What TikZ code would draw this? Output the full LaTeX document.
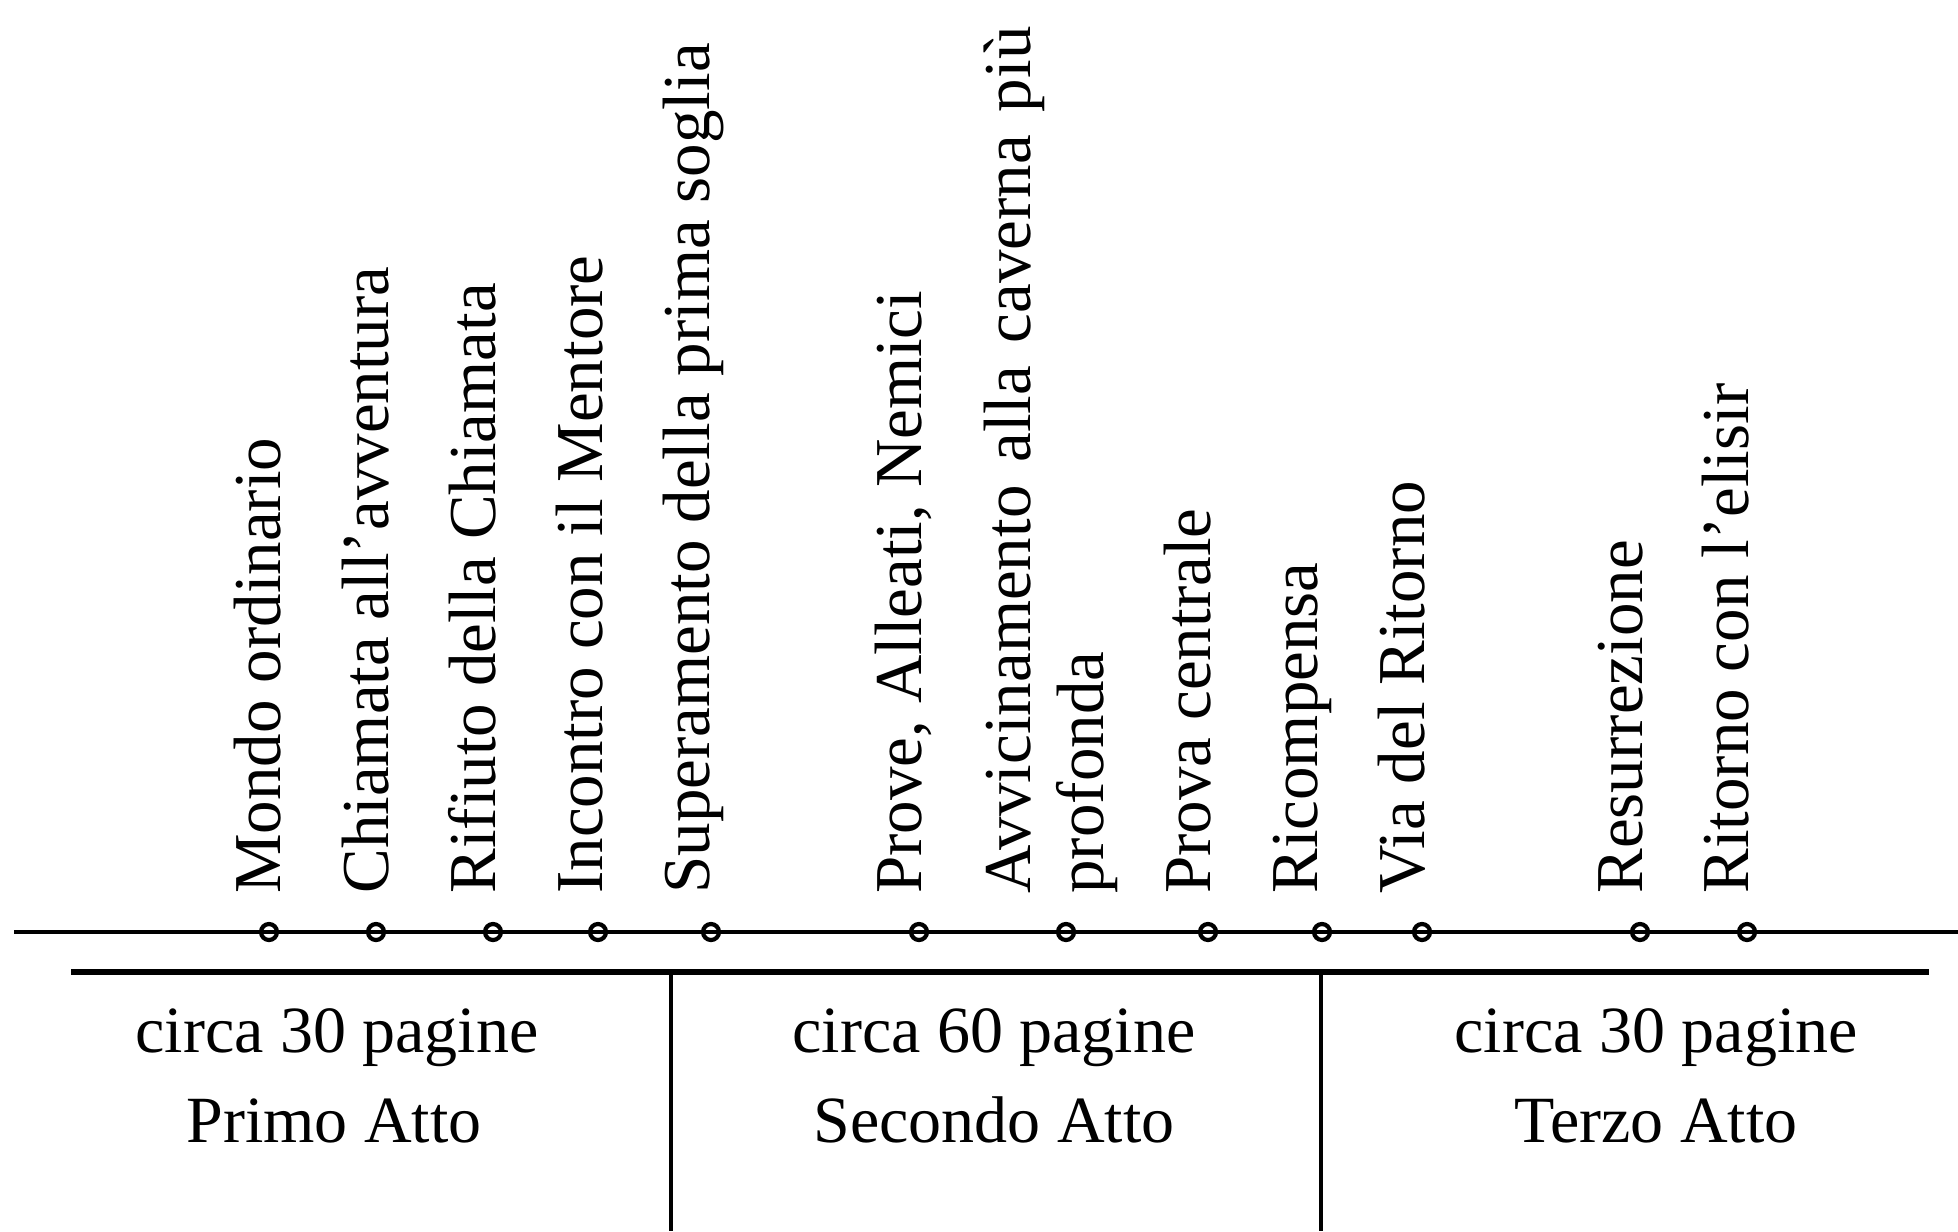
\documentclass[tikz,border=0pt]{standalone}
\usepackage{fontspec}
\setmainfont{Liberation Serif}
\newcommand{\widespaces}{\spaceskip=0.34em\relax}
\begin{document}
\begin{tikzpicture}[x=0.5pt,y=-0.5pt,
  lbl/.style={rotate=90,anchor=base west,inner sep=0pt,font=\fontsize{33.5}{36.5}\selectfont},
  act/.style={anchor=base,inner sep=0pt,font=\fontsize{33}{36}\selectfont},
  dot/.style={circle,draw,line width=2.1pt,minimum size=8pt,inner sep=0pt},
  tline/.style={line width=1.8pt},
  bline/.style={line width=2.8pt},
  vline/.style={line width=2pt}]
\useasboundingbox (0,0) rectangle (1958,1231);
% timeline
\coordinate (tl0) at (14,932);
\coordinate (tl1) at (1958,932);
\draw[tline] (tl0) -- (tl1);
% lower rule and dividers
\coordinate (bl0) at (71,972);
\coordinate (bl1) at (1929,972);
\draw[bline] (bl0) -- (bl1);
\coordinate (v1a) at (671,972);
\coordinate (v1b) at (671,1231);
\coordinate (v2a) at (1321,972);
\coordinate (v2b) at (1321,1231);
\draw[vline] (v1a) -- (v1b);
\draw[vline] (v2a) -- (v2b);
% dots
\foreach \x [count=\i] in {269,376,493,598,711,919,1066,1208,1322,1422,1640,1747}
  \node[dot] (d\i) at (\x,932) {};
% labels
\node[lbl] (l1) at (280,894) {Mondo ordinario};
\node[lbl] (l2) at (388,894) {Chiamata all'avventura};
\node[lbl] (l3) at (495,894) {Rifiuto della Chiamata};
\node[lbl] (l4) at (602,894) {Incontro con il Mentore};
\node[lbl] (l5) at (709,894) {Superamento della prima soglia};
\node[lbl] (l6) at (921,894) {Prove, Alleati, Nemici};
\node[lbl] (l7) at (1030,894) {\widespaces Avvicinamento alla caverna più};
\node[lbl] (l7b) at (1103,894) {profonda};
\node[lbl] (l8) at (1210,894) {Prova centrale};
\node[lbl] (l9) at (1317,894) {Ricompensa};
\node[lbl] (l10) at (1424,894) {Via del Ritorno};
\node[lbl] (l11) at (1642,894) {Resurrezione};
\node[lbl] (l12) at (1748,894) {Ritorno con l'elisir};
% act texts
\node[act] (p1) at (337,1052) {circa 30 pagine};
\node[act] (a1) at (334,1142) {Primo Atto};
\node[act] (p2) at (994,1052) {circa 60 pagine};
\node[act] (a2) at (994,1142) {Secondo Atto};
\node[act] (p3) at (1656,1052) {circa 30 pagine};
\node[act] (a3) at (1656,1142) {Terzo Atto};
\end{tikzpicture}
\end{document}
